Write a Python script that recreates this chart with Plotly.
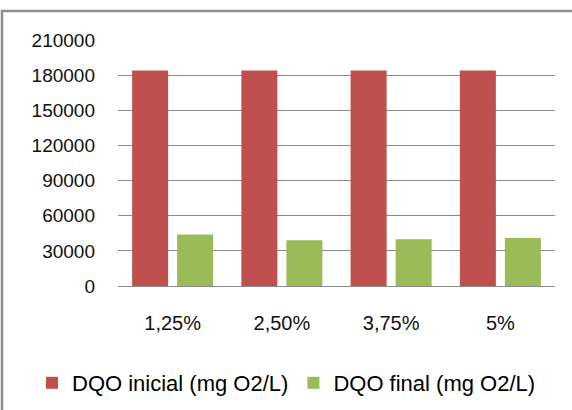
import plotly.graph_objects as go

categories = ["1,25%", "2,50%", "3,75%", "5%"]
dqo_inicial = [184000, 184000, 184000, 184000]
dqo_final = [44000, 39000, 40000, 41000]
y_ticks = [0, 30000, 60000, 90000, 120000, 150000, 180000, 210000]

W, H = 572, 410
L, T = 118, 40
R = W - 555
ph = 246
B = H - T - ph
pw = W - L - R

FAM = "Liberation Sans, Arial, sans-serif"
font = dict(family=FAM, size=19, color="#111111")
xfont = dict(family=FAM, size=20, color="#111111")
lfont = dict(family=FAM, size=22, color="#000000")

fig = go.Figure()
fig.add_trace(go.Bar(name="DQO inicial (mg O2/L)", x=categories, y=dqo_inicial,
                     marker=dict(color="#C0504D", line=dict(width=0))))
fig.add_trace(go.Bar(name="DQO final (mg O2/L)", x=categories, y=dqo_final,
                     marker=dict(color="#9BBB59", line=dict(width=0))))

fig.update_layout(
    width=W, height=H,
    margin=dict(l=L, r=R, t=T, b=B, pad=0, autoexpand=False),
    paper_bgcolor="white", plot_bgcolor="white",
    font=font,
    barmode="group", bargap=0.176, bargroupgap=0.2,
    showlegend=True,
    legend=dict(orientation="h",
                x=(32 - L) / pw, xanchor="left",
                y=(T + ph - 383) / ph, yanchor="middle",
                font=lfont, itemwidth=30, traceorder="normal", tracegroupgap=0),
    xaxis=dict(showgrid=False, showline=False, ticks="", tickfont=xfont,
               ticklabelstandoff=23, automargin=False),
    yaxis=dict(range=[0, 210000], tickvals=y_ticks, ticktext=[str(v) for v in y_ticks],
               showgrid=True, gridcolor="#8C8C8C", gridwidth=1.3,
               zeroline=True, zerolinecolor="#8C8C8C", zerolinewidth=1.3,
               showline=False, ticks="", tickfont=font, ticklabelstandoff=22,
               automargin=False),
    shapes=[dict(type="rect", xref="paper", yref="paper",
                 x0=(2 - L) / pw, x1=(W + 10 - L) / pw,
                 y0=(T + ph - (H + 10)) / ph, y1=(T + ph - 11) / ph,
                 line=dict(color="#8C8C8C", width=2.5), fillcolor="rgba(0,0,0,0)",
                 layer="below")],
)

fig.write_html("out.html", config={"displayModeBar": False},
               post_script="document.body.style.margin='0';")
